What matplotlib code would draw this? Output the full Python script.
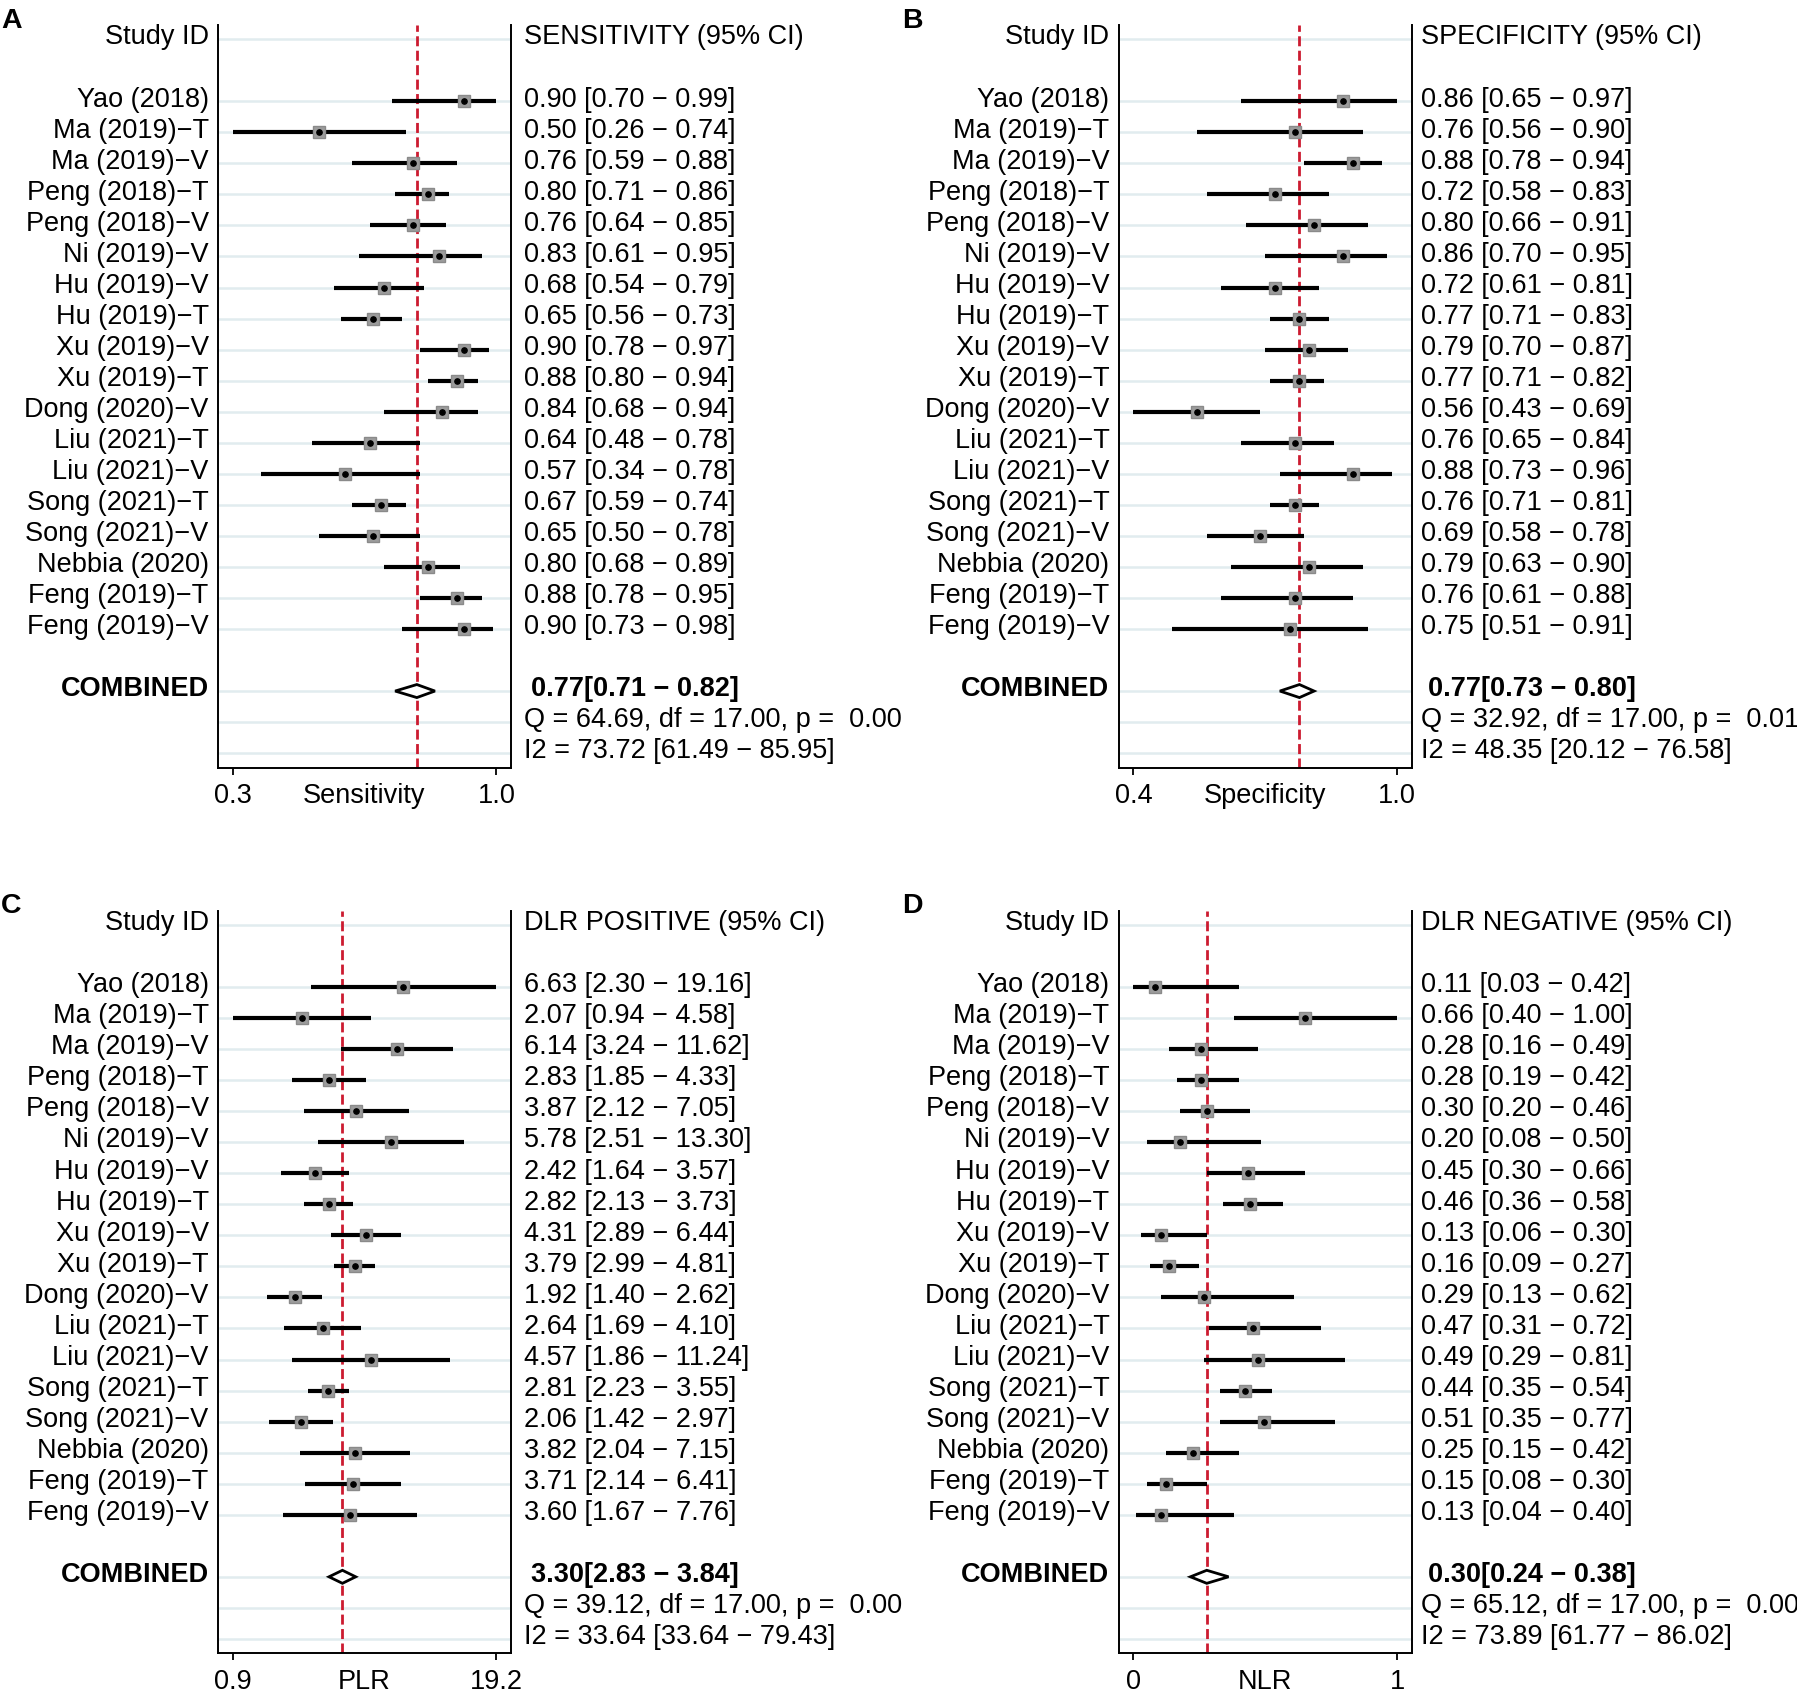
import numpy as np
import matplotlib
matplotlib.use('Agg')
import matplotlib.pyplot as plt
from matplotlib.patches import Polygon
from matplotlib.ticker import NullLocator

plt.rcParams['font.family'] = ['Liberation Sans', 'DejaVu Sans']

M = '\u2212'
studies = ['Yao (2018)', 'Ma (2019)' + M + 'T', 'Ma (2019)' + M + 'V', 'Peng (2018)' + M + 'T',
           'Peng (2018)' + M + 'V', 'Ni (2019)' + M + 'V', 'Hu (2019)' + M + 'V', 'Hu (2019)' + M + 'T',
           'Xu (2019)' + M + 'V', 'Xu (2019)' + M + 'T', 'Dong (2020)' + M + 'V', 'Liu (2021)' + M + 'T',
           'Liu (2021)' + M + 'V', 'Song (2021)' + M + 'T', 'Song (2021)' + M + 'V', 'Nebbia (2020)',
           'Feng (2019)' + M + 'T', 'Feng (2019)' + M + 'V']

sens_est = [0.90, 0.50, 0.76, 0.80, 0.76, 0.83, 0.68, 0.65, 0.90, 0.88, 0.84, 0.64, 0.57, 0.67, 0.65, 0.80, 0.88, 0.90]
sens_lo = [0.70, 0.26, 0.59, 0.71, 0.64, 0.61, 0.54, 0.56, 0.78, 0.80, 0.68, 0.48, 0.34, 0.59, 0.50, 0.68, 0.78, 0.73]
sens_hi = [0.99, 0.74, 0.88, 0.86, 0.85, 0.95, 0.79, 0.73, 0.97, 0.94, 0.94, 0.78, 0.78, 0.74, 0.78, 0.89, 0.95, 0.98]
sens_comb = [0.77, 0.71, 0.82]
sens_q = [64.69, 17.00, 0.00]
sens_i2 = [73.72, 61.49, 85.95]

spec_est = [0.86, 0.76, 0.88, 0.72, 0.80, 0.86, 0.72, 0.77, 0.79, 0.77, 0.56, 0.76, 0.88, 0.76, 0.69, 0.79, 0.76, 0.75]
spec_lo = [0.65, 0.56, 0.78, 0.58, 0.66, 0.70, 0.61, 0.71, 0.70, 0.71, 0.43, 0.65, 0.73, 0.71, 0.58, 0.63, 0.61, 0.51]
spec_hi = [0.97, 0.90, 0.94, 0.83, 0.91, 0.95, 0.81, 0.83, 0.87, 0.82, 0.69, 0.84, 0.96, 0.81, 0.78, 0.90, 0.88, 0.91]
spec_comb = [0.77, 0.73, 0.80]
spec_q = [32.92, 17.00, 0.01]
spec_i2 = [48.35, 20.12, 76.58]

plr_est = [6.63, 2.07, 6.14, 2.83, 3.87, 5.78, 2.42, 2.82, 4.31, 3.79, 1.92, 2.64, 4.57, 2.81, 2.06, 3.82, 3.71, 3.60]
plr_lo = [2.30, 0.94, 3.24, 1.85, 2.12, 2.51, 1.64, 2.13, 2.89, 2.99, 1.40, 1.69, 1.86, 2.23, 1.42, 2.04, 2.14, 1.67]
plr_hi = [19.16, 4.58, 11.62, 4.33, 7.05, 13.30, 3.57, 3.73, 6.44, 4.81, 2.62, 4.10, 11.24, 3.55, 2.97, 7.15, 6.41, 7.76]
plr_comb = [3.30, 2.83, 3.84]
plr_q = [39.12, 17.00, 0.00]
plr_i2 = [33.64, 33.64, 79.43]

nlr_est = [0.11, 0.66, 0.28, 0.28, 0.30, 0.20, 0.45, 0.46, 0.13, 0.16, 0.29, 0.47, 0.49, 0.44, 0.51, 0.25, 0.15, 0.13]
nlr_lo = [0.03, 0.40, 0.16, 0.19, 0.20, 0.08, 0.30, 0.36, 0.06, 0.09, 0.13, 0.31, 0.29, 0.35, 0.35, 0.15, 0.08, 0.04]
nlr_hi = [0.42, 1.00, 0.49, 0.42, 0.46, 0.50, 0.66, 0.58, 0.30, 0.27, 0.62, 0.72, 0.81, 0.54, 0.77, 0.42, 0.30, 0.40]
nlr_comb = [0.30, 0.24, 0.38]
nlr_q = [65.12, 17.00, 0.00]
nlr_i2 = [73.89, 61.77, 86.02]

panel_letters = ['A', 'B', 'C', 'D']
headers = ['SENSITIVITY (95% CI)', 'SPECIFICITY (95% CI)', 'DLR POSITIVE (95% CI)', 'DLR NEGATIVE (95% CI)']
xtitles = ['Sensitivity', 'Specificity', 'PLR', 'NLR']
tick_labels = [['0.3', '1.0'], ['0.4', '1.0'], ['0.9', '19.2'], ['0', '1']]

W, H = 1568.0, 1474.0
FS = 19.5
GRID = '#e1ecef'
RED = '#cc1b30'

fig = plt.figure(figsize=(17.97, 16.89), dpi=100)


def make_ax(x0, y0, x1, y1):
    return fig.add_axes([x0 / W, 1 - y1 / H, (x1 - x0) / W, (y1 - y0) / H])


def draw_panel(ax, est, lo, hi, comb, q, i2, header, xtitle, tlabels, log=False, rx=1.043):
    n = len(est)
    rows = np.arange(2, 2 + n)
    crow = n + 3
    allv = lo + hi + comb
    vmin, vmax = min(allv), max(allv)
    if log:
        ax.set_xscale('log')
        a, b = np.log10(vmin), np.log10(vmax)
        pad = 0.056 * (b - a)
        ax.set_xlim(10 ** (a - pad), 10 ** (b + pad))
        ax.xaxis.set_minor_locator(NullLocator())
    else:
        pad = 0.056 * (vmax - vmin)
        ax.set_xlim(vmin - pad, vmax + pad)
    ax.set_ylim(crow + 2.47, -0.45)

    for r in [0] + list(rows) + [crow, crow + 1, crow + 2]:
        ax.axhline(r, color=GRID, lw=1.8, zorder=1)

    ax.axvline(comb[0], color=RED, lw=2.0, linestyle=(0, (3.6, 1.6)), zorder=2)
    ax.hlines(rows, lo, hi, color='black', lw=3.0, zorder=3)
    ax.plot(est, rows, 's', ms=9, color='#9c9c9c', mec='#8a8a8a', mew=1.0, zorder=4)
    ax.plot(est, rows, 'o', ms=3.8, color='black', zorder=5)

    dh = 0.21
    dia = Polygon([(comb[1], crow), (comb[0], crow - dh), (comb[2], crow), (comb[0], crow + dh)],
                  closed=True, facecolor='white', edgecolor='black', lw=2.0, zorder=4)
    ax.add_patch(dia)

    ax.spines['top'].set_visible(False)
    for s in ['left', 'right', 'bottom']:
        ax.spines[s].set_linewidth(1.4)
    ax.set_yticks([])
    ax.set_xticks([vmin, vmax])
    ax.set_xticklabels(tlabels)
    ax.tick_params(axis='x', length=5, width=1.3, pad=6, labelsize=FS)
    ax.annotate(xtitle, (0.5, 0), xycoords='axes fraction', xytext=(0, -11),
                textcoords='offset points', ha='center', va='top', fontsize=FS)

    tr = ax.get_yaxis_transform()
    lx = -0.031
    off = 0.17
    ax.text(lx, 0 + off, 'Study ID', transform=tr, ha='right', va='baseline', fontsize=FS)
    ax.text(rx, 0 + off, header, transform=tr, ha='left', va='baseline', fontsize=FS)
    for r, s, e, l, h in zip(rows, studies, est, lo, hi):
        ax.text(lx, r + off, s, transform=tr, ha='right', va='baseline', fontsize=FS)
        ax.text(rx, r + off, f'{e:.2f} [{l:.2f} {M} {h:.2f}]', transform=tr,
                ha='left', va='baseline', fontsize=FS)
    ax.text(lx, crow + off, 'COMBINED', transform=tr, ha='right', va='baseline',
            fontsize=FS, fontweight='bold')
    ax.text(rx + 0.024, crow + off, f'{comb[0]:.2f}[{comb[1]:.2f} {M} {comb[2]:.2f}]', transform=tr,
            ha='left', va='baseline', fontsize=FS, fontweight='bold')
    ax.text(rx, crow + 1 + off, f'Q = {q[0]:.2f}, df = {q[1]:.2f}, p =  {q[2]:.2f}', transform=tr,
            ha='left', va='baseline', fontsize=FS)
    ax.text(rx, crow + 2 + off, f'I2 = {i2[0]:.2f} [{i2[1]:.2f} {M} {i2[2]:.2f}]', transform=tr,
            ha='left', va='baseline', fontsize=FS)


panels = [
    (sens_est, sens_lo, sens_hi, sens_comb, sens_q, sens_i2, False),
    (spec_est, spec_lo, spec_hi, spec_comb, spec_q, spec_i2, False),
    (plr_est, plr_lo, plr_hi, plr_comb, plr_q, plr_i2, True),
    (nlr_est, nlr_lo, nlr_hi, nlr_comb, nlr_q, nlr_i2, False),
]
offsets = [(0, 0), (786, 0), (0, 773), (786, 773)]
right_x = [1.043, 1.031, 1.043, 1.031]

for i, (p, (dx, dy)) in enumerate(zip(panels, offsets)):
    ax = make_ax(190 + dx, 22 + dy, 446 + dx, 670 + dy)
    draw_panel(ax, p[0], p[1], p[2], p[3], p[4], p[5], headers[i], xtitles[i], tick_labels[i],
               log=p[6], rx=right_x[i])
    fig.text((1 + dx) / W, 1 - (18 + dy) / H, panel_letters[i], ha='left', va='center',
             fontsize=FS + 1, fontweight='bold')

fig.savefig('out.png', dpi=100)
